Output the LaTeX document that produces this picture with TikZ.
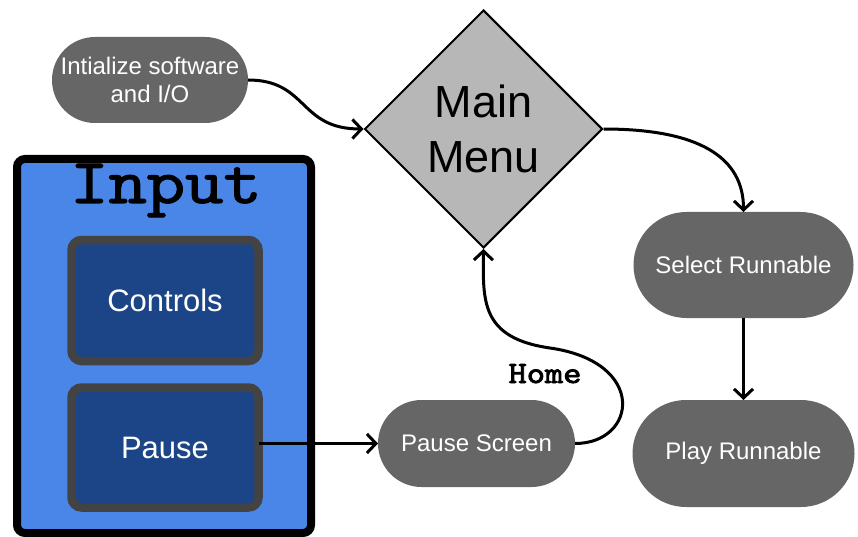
\documentclass[tikz,border=0pt]{standalone}
\usepackage{fontspec}
\setmainfont{Liberation Sans}
\newfontfamily\inputf[FakeBold=1.6]{lmmono10-regular.otf}
\newfontfamily\homef[FakeBold=2.5]{lmmono10-regular.otf}
\usetikzlibrary{shapes.geometric,arrows.meta}
\definecolor{nodegray}{HTML}{666666}
\definecolor{diagray}{HTML}{B7B7B7}
\definecolor{inblue}{HTML}{4A86E8}
\definecolor{darkblue}{HTML}{1C4587}
\definecolor{bordergray}{HTML}{434343}
\begin{document}
\begin{tikzpicture}[x=1pt,y=-1pt,
  pill/.style={fill=nodegray, text=white, inner sep=0pt, outer sep=0pt, align=center, font=\fontsize{24}{28}\selectfont},
  innerbox/.style={draw=bordergray, fill=darkblue, line width=8.5pt, rounded corners=10pt, text=white, inner sep=0pt, outer sep=0pt, minimum width=187pt, font=\fontsize{31}{36}\selectfont},
  conn/.style={line width=3pt, -{Straight Barb[length=9pt,width=19pt]}}]
\useasboundingbox (0,0) rectangle (858,537);

% Input container
\node[draw=black, line width=8pt, fill=inblue, rounded corners=8pt, minimum width=294pt, minimum height=374pt, inner sep=0pt] (inbox) at (164,346) {};
\node[font=\inputf\fontsize{64}{64}\selectfont, anchor=base, inner sep=0pt, xscale=1.14, transform shape] (intitle) at (166,203) {Input};
\node[innerbox, minimum height=121pt] (ctrl) at (165,300.5) {Controls};
\node[innerbox, minimum height=120pt] (pause) at (165,447.5) {Pause};

% flow nodes
\node[pill, minimum width=196pt, minimum height=86pt, rounded corners=43pt] (init) at (150,80) {Intialize software\\and I/O};
\node[diamond, draw=black, line width=2pt, fill=diagray, minimum size=238pt, inner sep=0pt, align=center, font=\fontsize{45}{55}\selectfont] (mm) at (483.5,129) {Main\\Menu};
\node[pill, minimum width=220pt, minimum height=106pt, rounded corners=53pt] (sel) at (743.5,265) {Select Runnable};
\node[pill, minimum width=222pt, minimum height=107pt, rounded corners=53.5pt] (play) at (743.5,453.5) {Play Runnable};
\node[pill, minimum width=197pt, minimum height=87pt, rounded corners=43.5pt] (ps) at (476.5,443.5) {Pause Screen};
\node[font=\homef\fontsize{31}{31}\selectfont, anchor=base, inner sep=0pt, xscale=1.12, transform shape] (home) at (545,383) {Home};
\coordinate (hc) at (550,348);

% connectors
\draw[conn] (init.east) .. controls +(60,0) and +(-65,0) .. (mm.west);
\draw[conn] (mm.east) .. controls +(95,0) and +(0,-55) .. (sel.north);
\draw[conn] (sel.south) -- (play.north);
\draw[conn] (pause.east |- ps.west) -- (ps.west);
\draw[conn] (ps.east) .. controls +(62,0) and (648,362) .. (hc) .. controls (480,338) and (483,300) .. (mm.south);
\end{tikzpicture}
\end{document}
